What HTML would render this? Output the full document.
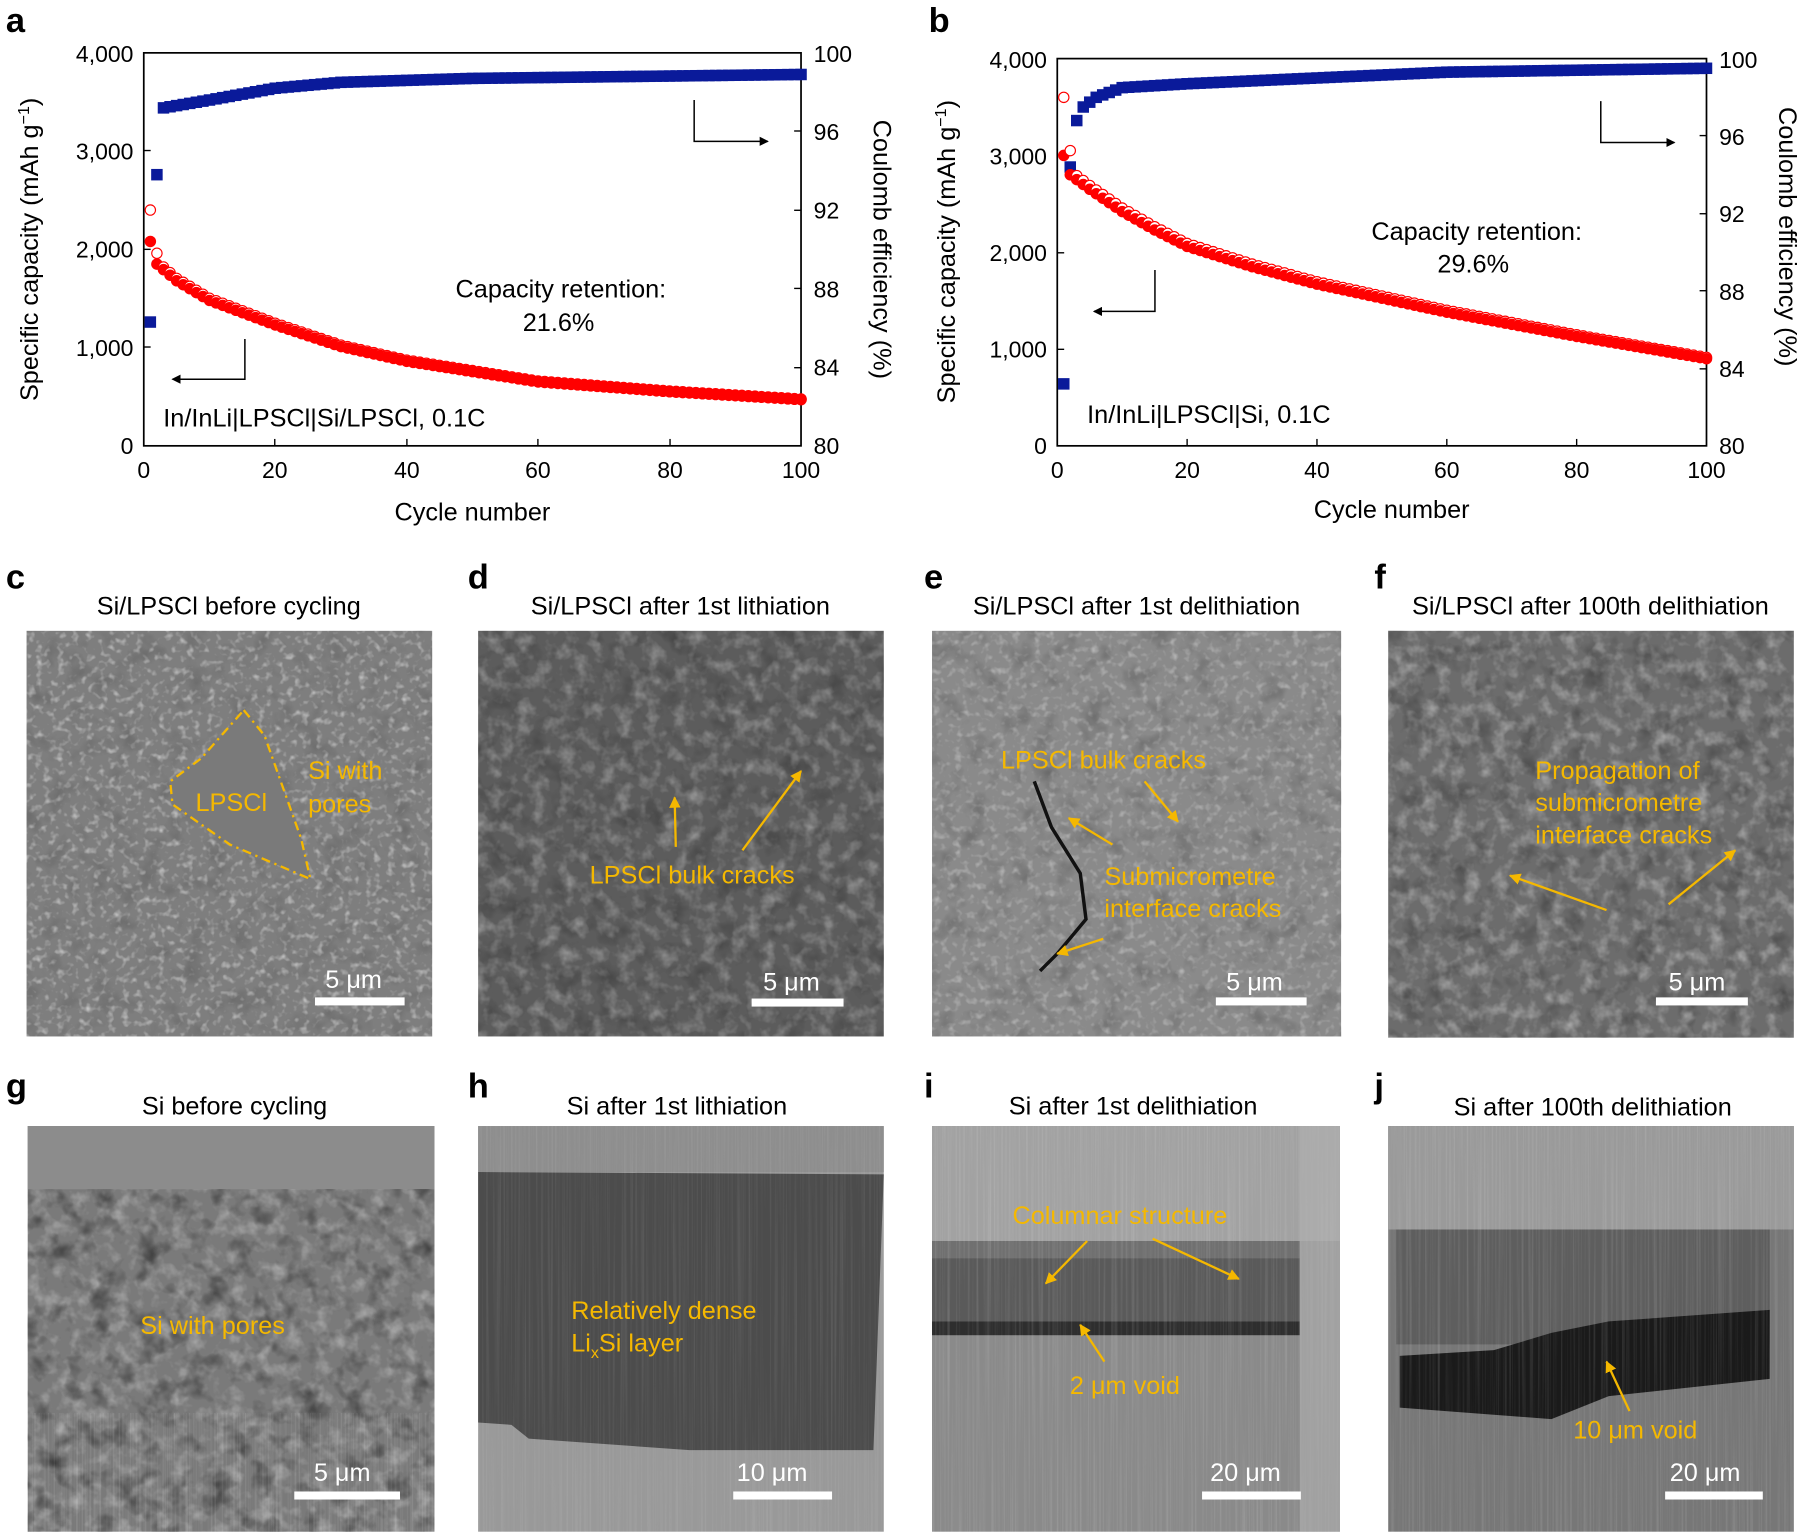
<!DOCTYPE html>
<html><head><meta charset="utf-8"><style>
html,body{margin:0;padding:0;background:#fff;}
svg{display:block;font-family:"Liberation Sans",sans-serif;}
</style></head><body>
<svg id="s" width="1802" height="1534" viewBox="0 0 1568 1335" xmlns="http://www.w3.org/2000/svg">
<defs>
<filter id="nz" x="0" y="0" width="100%" height="100%">
<feTurbulence type="fractalNoise" baseFrequency="0.08" numOctaves="3" seed="3"/>
<feColorMatrix type="matrix" values="0 0 0 0 1  0 0 0 0 1  0 0 0 0 1  1.2 0 0 0 -0.55"/>
</filter>
<filter id="nzf" x="0" y="0" width="100%" height="100%">
<feTurbulence type="fractalNoise" baseFrequency="0.16" numOctaves="2" seed="11"/>
<feColorMatrix type="matrix" values="0 0 0 0 1  0 0 0 0 1  0 0 0 0 1  2.2 0 0 0 -1.15"/>
</filter>
<filter id="nzd" x="0" y="0" width="100%" height="100%">
<feTurbulence type="fractalNoise" baseFrequency="0.05" numOctaves="3" seed="7"/>
<feColorMatrix type="matrix" values="0 0 0 0 0  0 0 0 0 0  0 0 0 0 0  1.4 0 0 0 -0.7"/>
</filter>
<filter id="str" x="0" y="0" width="100%" height="100%">
<feTurbulence type="fractalNoise" baseFrequency="0.6 0.004" numOctaves="2" seed="5"/>
<feColorMatrix type="matrix" values="0 0 0 0 1  0 0 0 0 1  0 0 0 0 1  0.9 0 0 0 -0.4"/>
</filter>
<marker id="ah" markerWidth="8" markerHeight="8" refX="7" refY="4" orient="auto" markerUnits="userSpaceOnUse"><path d="M0,0 L8,4 L0,8 Z" fill="#000"/></marker>
<marker id="ay" markerWidth="10" markerHeight="10" refX="9" refY="5" orient="auto" markerUnits="userSpaceOnUse"><path d="M0,0 L10,5 L0,10 Z" fill="#f5b800"/></marker>
</defs>

<g font-weight="bold" font-size="30" fill="#000">
<text x="5" y="28">a</text><text x="808" y="28">b</text>
<text x="5" y="512">c</text><text x="407" y="512">d</text><text x="804" y="512">e</text><text x="1196" y="512">f</text>
<text x="5" y="955">g</text><text x="407" y="955">h</text><text x="804" y="955">i</text><text x="1196" y="955">j</text>
</g>

<g id="pa">
<rect x="125" y="46" width="572" height="342" fill="none" stroke="#000" stroke-width="1.5"/>
<g font-size="20" fill="#000">
<text x="116" y="395" text-anchor="end">0</text>
<text x="116" y="310" text-anchor="end">1,000</text>
<text x="116" y="224" text-anchor="end">2,000</text>
<text x="116" y="139" text-anchor="end">3,000</text>
<text x="116" y="54" text-anchor="end">4,000</text>
<text x="708" y="395">80</text><text x="708" y="327">84</text><text x="708" y="259">88</text><text x="708" y="190">92</text><text x="708" y="122">96</text><text x="708" y="54">100</text>
<text x="125" y="416" text-anchor="middle">0</text><text x="239" y="416" text-anchor="middle">20</text><text x="354" y="416" text-anchor="middle">40</text><text x="468" y="416" text-anchor="middle">60</text><text x="583" y="416" text-anchor="middle">80</text><text x="697" y="416" text-anchor="middle">100</text>
<text x="411" y="453" text-anchor="middle" font-size="22">Cycle number</text>
<text x="488" y="259" text-anchor="middle" font-size="22">Capacity retention:</text>
<text x="486" y="288" text-anchor="middle" font-size="22">21.6%</text>
<text x="142" y="371" font-size="22">In/InLi|LPSCl|Si/LPSCl, 0.1C</text>
<text transform="translate(33,217) rotate(-90)" text-anchor="middle" font-size="22">Specific capacity (mAh g<tspan baseline-shift="super" font-size="14">−1</tspan>)</text>
<text transform="translate(760,217) rotate(90)" text-anchor="middle" font-size="22">Coulomb efficiency (%)</text>
</g>
<g stroke="#000" stroke-width="1.2"><line x1="125" y1="302" x2="131" y2="302"/><line x1="125" y1="217" x2="131" y2="217"/><line x1="125" y1="131" x2="131" y2="131"/>
<line x1="697" y1="320" x2="691" y2="320"/><line x1="697" y1="251" x2="691" y2="251"/><line x1="697" y1="183" x2="691" y2="183"/><line x1="697" y1="114" x2="691" y2="114"/>
<line x1="239" y1="388" x2="239" y2="382"/><line x1="354" y1="388" x2="354" y2="382"/><line x1="468" y1="388" x2="468" y2="382"/><line x1="583" y1="388" x2="583" y2="382"/></g>
<polyline points="213,295 213,330 150,330" fill="none" stroke="#000" stroke-width="1.3" marker-end="url(#ah)"/>
<polyline points="604,87 604,123 668,123" fill="none" stroke="#000" stroke-width="1.3" marker-end="url(#ah)"/>
</g>

<g id="pb">
<rect x="920" y="51" width="565" height="337" fill="none" stroke="#000" stroke-width="1.5"/>
<g font-size="20" fill="#000">
<text x="911" y="395" text-anchor="end">0</text>
<text x="911" y="311" text-anchor="end">1,000</text>
<text x="911" y="227" text-anchor="end">2,000</text>
<text x="911" y="143" text-anchor="end">3,000</text>
<text x="911" y="59" text-anchor="end">4,000</text>
<text x="1496" y="395">80</text><text x="1496" y="328">84</text><text x="1496" y="261">88</text><text x="1496" y="193">92</text><text x="1496" y="126">96</text><text x="1496" y="59">100</text>
<text x="920" y="416" text-anchor="middle">0</text><text x="1033" y="416" text-anchor="middle">20</text><text x="1146" y="416" text-anchor="middle">40</text><text x="1259" y="416" text-anchor="middle">60</text><text x="1372" y="416" text-anchor="middle">80</text><text x="1485" y="416" text-anchor="middle">100</text>
<text x="1211" y="451" text-anchor="middle" font-size="22">Cycle number</text>
<text x="1285" y="209" text-anchor="middle" font-size="22">Capacity retention:</text>
<text x="1282" y="237" text-anchor="middle" font-size="22">29.6%</text>
<text x="946" y="368" font-size="22">In/InLi|LPSCl|Si, 0.1C</text>
<text transform="translate(831,219) rotate(-90)" text-anchor="middle" font-size="22">Specific capacity (mAh g<tspan baseline-shift="super" font-size="14">−1</tspan>)</text>
<text transform="translate(1548,206) rotate(90)" text-anchor="middle" font-size="22">Coulomb efficiency (%)</text>
</g>
<g stroke="#000" stroke-width="1.2"><line x1="920" y1="304" x2="926" y2="304"/><line x1="920" y1="220" x2="926" y2="220"/><line x1="920" y1="135" x2="926" y2="135"/>
<line x1="1485" y1="321" x2="1479" y2="321"/><line x1="1485" y1="253" x2="1479" y2="253"/><line x1="1485" y1="186" x2="1479" y2="186"/><line x1="1485" y1="118" x2="1479" y2="118"/>
<line x1="1033" y1="388" x2="1033" y2="382"/><line x1="1146" y1="388" x2="1146" y2="382"/><line x1="1259" y1="388" x2="1259" y2="382"/><line x1="1372" y1="388" x2="1372" y2="382"/></g>
<polyline points="1005,235 1005,271 952,271" fill="none" stroke="#000" stroke-width="1.3" marker-end="url(#ah)"/>
<polyline points="1393,88 1393,124 1457,124" fill="none" stroke="#000" stroke-width="1.3" marker-end="url(#ah)"/>
</g>

<g font-size="22" fill="#000" text-anchor="middle">
<text x="199" y="535">Si/LPSCl before cycling</text>
<text x="592" y="535">Si/LPSCl after 1st lithiation</text>
<text x="989" y="535">Si/LPSCl after 1st delithiation</text>
<text x="1384" y="535">Si/LPSCl after 100th delithiation</text>
<text x="204" y="970">Si before cycling</text>
<text x="589" y="970">Si after 1st lithiation</text>
<text x="986" y="970">Si after 1st delithiation</text>
<text x="1386" y="971">Si after 100th delithiation</text>
</g>

<!-- c -->
<rect x="23" y="549" width="353" height="353" fill="#7e7e7e"/>
<rect x="23" y="549" width="353" height="353" filter="url(#nzf)" opacity="0.6"/>
<rect x="23" y="549" width="353" height="353" filter="url(#nzd)" opacity="0.25"/>
<path d="M212,618 L230,640 L262,730 L270,765 L200,735 L150,700 L148,680 L175,660 Z" fill="#7a7a7a" stroke="#f5b800" stroke-width="2" stroke-dasharray="8,4,2,4"/>
<g fill="#f5b800" font-size="22"><text x="170" y="706">LPSCl</text><text x="268" y="678">Si with</text><text x="268" y="707">pores</text></g>
<!-- d -->
<rect x="416" y="549" width="353" height="353" fill="#5c5c5c"/>
<rect x="416" y="549" width="353" height="353" filter="url(#nz)" opacity="0.6"/>
<rect x="416" y="549" width="353" height="353" filter="url(#nzd)" opacity="0.4"/>
<g fill="#f5b800" font-size="22"><text x="513" y="769">LPSCl bulk cracks</text></g>
<line x1="588" y1="737" x2="587" y2="694" stroke="#f5b800" stroke-width="2" marker-end="url(#ay)"/>
<line x1="646" y1="740" x2="697" y2="671" stroke="#f5b800" stroke-width="2" marker-end="url(#ay)"/>
<!-- e -->
<rect x="811" y="549" width="356" height="353" fill="#8a8a8a"/>
<rect x="811" y="549" width="356" height="353" filter="url(#nzf)" opacity="0.4"/>
<rect x="811" y="549" width="356" height="353" filter="url(#nzd)" opacity="0.35"/>
<path d="M900,680 L915,720 L940,760 L945,800 L920,830 L905,845" fill="none" stroke="#111" stroke-width="3"/>
<g fill="#f5b800" font-size="22"><text x="871" y="669">LPSCl bulk cracks</text><text x="961" y="770">Submicrometre</text><text x="961" y="798">interface cracks</text></g>
<line x1="996" y1="680" x2="1025" y2="715" stroke="#f5b800" stroke-width="2" marker-end="url(#ay)"/>
<line x1="968" y1="735" x2="930" y2="712" stroke="#f5b800" stroke-width="2" marker-end="url(#ay)"/>
<line x1="960" y1="817" x2="920" y2="830" stroke="#f5b800" stroke-width="2" marker-end="url(#ay)"/>
<!-- f -->
<rect x="1208" y="549" width="353" height="354" fill="#6c6c6c"/>
<rect x="1208" y="549" width="353" height="354" filter="url(#nz)" opacity="0.7"/>
<rect x="1208" y="549" width="353" height="354" filter="url(#nzd)" opacity="0.5"/>
<g fill="#f5b800" font-size="22"><text x="1336" y="678">Propagation of</text><text x="1336" y="706">submicrometre</text><text x="1336" y="734">interface cracks</text></g>
<line x1="1398" y1="792" x2="1314" y2="762" stroke="#f5b800" stroke-width="2" marker-end="url(#ay)"/>
<line x1="1452" y1="787" x2="1510" y2="740" stroke="#f5b800" stroke-width="2" marker-end="url(#ay)"/>

<!-- g -->
<rect x="24" y="980" width="354" height="353" fill="#7a7a7a"/>
<rect x="24" y="980" width="354" height="55" fill="#8c8c8c"/>
<rect x="24" y="1035" width="354" height="298" filter="url(#nz)" opacity="0.6"/>
<rect x="24" y="1035" width="354" height="298" filter="url(#nzd)" opacity="0.8"/>
<rect x="24" y="1230" width="354" height="103" filter="url(#str)" opacity="0.4"/>
<text x="122" y="1161" fill="#f5b800" font-size="22">Si with pores</text>
<!-- h -->
<rect x="416" y="980" width="353" height="353" fill="#999"/>
<rect x="416" y="980" width="353" height="40" fill="#8e8e8e"/>
<path d="M416,1020 L769,1022 L760,1262 L600,1262 L460,1252 L445,1240 L416,1238 Z" fill="#4c4c4c"/>
<rect x="416" y="980" width="353" height="353" filter="url(#str)" opacity="0.25"/>
<g fill="#f5b800" font-size="22"><text x="497" y="1148">Relatively dense</text><text x="497" y="1176">Li<tspan font-size="14" dy="6">x</tspan><tspan dy="-6">Si layer</tspan></text></g>
<!-- i -->
<rect x="811" y="980" width="355" height="353" fill="#8a8a8a"/>
<rect x="811" y="980" width="355" height="100" fill="#a2a2a2"/>
<rect x="811" y="1080" width="320" height="15" fill="#707070"/>
<rect x="811" y="1095" width="320" height="55" fill="#5a5a5a"/>
<rect x="811" y="1150" width="320" height="12" fill="#2e2e2e"/>
<rect x="811" y="980" width="355" height="353" filter="url(#str)" opacity="0.35"/>
<rect x="1131" y="980" width="35" height="353" fill="#b0b0b0" opacity="0.6"/>
<g fill="#f5b800" font-size="22"><text x="881" y="1065">Columnar structure</text><text x="931" y="1213">2 μm void</text></g>
<line x1="946" y1="1080" x2="910" y2="1117" stroke="#f5b800" stroke-width="2" marker-end="url(#ay)"/>
<line x1="1003" y1="1078" x2="1078" y2="1113" stroke="#f5b800" stroke-width="2" marker-end="url(#ay)"/>
<line x1="961" y1="1185" x2="940" y2="1153" stroke="#f5b800" stroke-width="2" marker-end="url(#ay)"/>
<!-- j -->
<rect x="1208" y="980" width="353" height="353" fill="#777"/>
<rect x="1208" y="980" width="353" height="90" fill="#9a9a9a"/>
<rect x="1215" y="1070" width="325" height="100" fill="#5e5e5e"/>
<path d="M1218,1180 L1300,1175 L1350,1160 L1400,1150 L1540,1140 L1540,1200 L1400,1215 L1350,1235 L1218,1225 Z" fill="#1a1a1a"/>
<rect x="1208" y="980" width="353" height="353" filter="url(#str)" opacity="0.35"/>
<text x="1369" y="1252" fill="#f5b800" font-size="22">10 μm void</text>
<line x1="1418" y1="1228" x2="1398" y2="1185" stroke="#f5b800" stroke-width="2" marker-end="url(#ay)"/>

<g fill="#fff" font-size="22">
<rect x="274" y="868" width="78" height="7"/><text x="283" y="860">5 μm</text>
<rect x="654" y="869" width="80" height="7"/><text x="664" y="862">5 μm</text>
<rect x="1058" y="868" width="79" height="7"/><text x="1067" y="862">5 μm</text>
<rect x="1441" y="868" width="80" height="7"/><text x="1452" y="862">5 μm</text>
<rect x="256" y="1298" width="92" height="7"/><text x="273" y="1289">5 μm</text>
<rect x="638" y="1298" width="86" height="7"/><text x="641" y="1289">10 μm</text>
<rect x="1046" y="1298" width="86" height="7"/><text x="1053" y="1289">20 μm</text>
<rect x="1449" y="1298" width="85" height="7"/><text x="1453" y="1289">20 μm</text>
</g>
<g id="data"></g>
</svg>
<script>
var NS="http://www.w3.org/2000/svg",g=document.getElementById("data");
function el(t,a){var e=document.createElementNS(NS,t);for(var k in a)e.setAttribute(k,a[k]);g.appendChild(e);}
function interp(tab,n){for(var i=0;i<tab.length-1;i++){if(n<=tab[i+1][0]){var a=tab[i],b=tab[i+1];return a[1]+(b[1]-a[1])*(n-a[0])/(b[0]-a[0]);}}return tab[tab.length-1][1];}
function plot(P){
 for(var n=1;n<=100;n++){
  var x=P.x0+(P.x1-P.x0)*n/100;
  var ce=n==1?P.ce1:n==2?P.ce2:interp(P.ceT,n);
  var yc=P.yb-(ce-80)/20*(P.yb-P.yt);
  el("rect",{x:x-5,y:yc-5,width:10,height:10,fill:"#0a1a9a"});
  var cap=interp(P.capT,n);
  var yo=P.yb-(n==1?P.o1:n==2?P.o2:cap*1.015)/4000*(P.yb-P.yt);
  el("circle",{cx:x,cy:yo,r:4.5,fill:"#fff",stroke:"#f00","stroke-width":1});
  var yf=P.yb-cap/4000*(P.yb-P.yt);
  el("circle",{cx:x,cy:yf,r:5,fill:"#f00"});
 }
}
plot({x0:125,x1:697,yt:46,yb:388,ce1:86.3,ce2:93.8,o1:2400,o2:1960,
 ceT:[[3,97.2],[10,97.6],[20,98.2],[30,98.5],[50,98.7],[100,98.9]],
 capT:[[1,2080],[2,1850],[5,1680],[10,1480],[20,1230],[30,1010],[40,860],[60,650],[80,550],[100,470]]});
plot({x0:920,x1:1485,yt:51,yb:388,ce1:83.2,ce2:94.4,o1:3600,o2:3050,
 ceT:[[3,96.8],[4,97.5],[6,98.0],[10,98.5],[20,98.7],[40,99.0],[60,99.3],[100,99.5]],
 capT:[[1,3000],[2,2800],[5,2650],[10,2420],[15,2230],[20,2060],[30,1850],[40,1670],[60,1380],[80,1130],[100,900]]});
</script>
</body></html>
